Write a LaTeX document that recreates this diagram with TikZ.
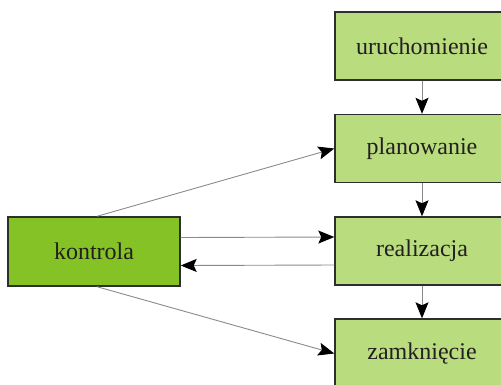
\documentclass[tikz,border=0pt]{standalone}
\usepackage{fontspec}
\setmainfont{Liberation Serif}
\usetikzlibrary{arrows.meta}
\definecolor{phasefill}{HTML}{B9DC7F}
\definecolor{ctrlfill}{HTML}{85C226}
\definecolor{edge}{HTML}{2E2E2A}
\definecolor{ink}{HTML}{231F20}
\definecolor{wire}{HTML}{8A8A8A}
\tikzset{
  phase/.style={draw=edge, line width=1.4pt, fill=phasefill, minimum width=174pt,
    minimum height=68pt, inner sep=0pt, text=ink, font=\fontsize{24}{28}\selectfont},
  ctrl/.style={phase, fill=ctrlfill, minimum width=172pt, minimum height=69pt},
  conn/.style={draw=wire, line width=0.9pt,
    -{Stealth[length=16pt, width=13pt, inset=3pt, color=black, fill=black]}}
}
\begin{document}
\begin{tikzpicture}[x=1pt, y=-1pt]
  \useasboundingbox (0,0) rectangle (501,384);
  \clip (0,0) rectangle (501,384);
  \node[phase] (start) at (422,46) {uruchomienie};
  \node[phase] (plan) at (422,148.5) {planowanie};
  \node[phase] (exec) at (422,251) {realizacja};
  \node[phase, minimum height=69pt] (close) at (422,353.5) {zamknięcie};
  \node[ctrl] (ctrl) at (94,251.5) {kontrola};
  % main sequence of phases
  \draw[conn] (start) -- (plan);
  \draw[conn] (plan) -- (exec);
  \draw[conn] (exec) -- (close);
  % control loops
  \draw[conn] ([xshift=3pt]ctrl.north) -- (plan.west);
  \draw[conn] ([xshift=3pt]ctrl.south) -- (close.west);
  \draw[conn] ([yshift=14pt]ctrl.east) -- ([yshift=14pt]exec.west);
  \draw[conn] ([yshift=-14pt]exec.west) -- ([yshift=-14pt]ctrl.east);
\end{tikzpicture}
\end{document}
